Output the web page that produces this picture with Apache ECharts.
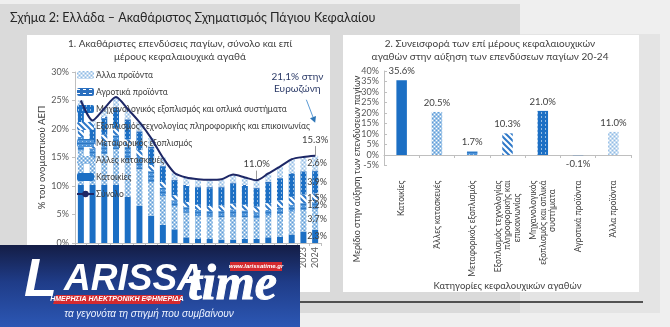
<!DOCTYPE html>
<html><head><meta charset="utf-8">
<script src="https://cdn.jsdelivr.net/npm/echarts/dist/echarts.min.js"></script>
<style>html,body{margin:0;padding:0;background:#efefef}#c{width:670px;height:327px}</style>
</head><body><div id="c"></div>
<script>
// ---------- DATA ----------
const years = ['2004','2005','2006','2007','2008','2009','2010','2011','2012','2013','2014','2015','2016','2017','2018','2019','2020','2021','2022','2023','2024'];
const dwellings   = [10.2,10.2,10.2,10.2,8.1,6.5,4.8,3.2,2.4,1.0,0.7,0.7,0.6,0.6,0.7,0.7,1.0,1.1,1.5,2.0,2.3];
const otherConstr = [6.0,4.6,5.4,6.2,6.4,6.4,5.9,5.0,4.1,4.3,4.0,3.9,3.9,4.0,3.8,3.6,3.8,4.0,4.0,3.8,3.7];
const transport   = [2.4,1.8,2.2,2.5,2.4,2.2,1.9,1.5,1.0,1.0,1.1,1.0,1.1,1.3,1.2,1.1,1.0,1.1,1.2,1.2,1.2];
const ict         = [1.2,1.1,1.2,1.3,1.3,1.2,1.1,1.0,0.9,0.9,0.9,0.9,1.0,1.0,1.0,1.0,1.2,1.3,1.4,1.5,1.5];
const machinery   = [3.3,2.3,2.8,3.3,3.2,3.0,2.9,2.7,2.5,2.8,3.0,3.1,3.1,3.5,3.3,3.1,3.5,3.8,4.1,4.0,3.9];
const agri        = [0.3,0.2,0.3,0.3,0.3,0.3,0.3,0.2,0.2,0.2,0.2,0.2,0.2,0.2,0.2,0.2,0.2,0.2,0.1,0.1,0.1];
const otherProd   = [1.6,1.3,1.5,1.8,1.8,1.6,1.5,1.4,1.2,1.3,1.3,1.3,1.3,1.4,1.3,1.3,1.5,1.9,2.4,2.5,2.6];
const total       = [25.0,21.5,23.6,25.6,23.5,21.2,18.4,15.0,12.3,11.5,11.2,11.1,11.2,12.0,11.5,11.0,12.2,13.4,14.7,15.1,15.3];
const totalLabelYears = ['2019','2024'];
const euroAreaValue = 21.1;
const euroAreaText = '21,1% στην\nΕυρωζώνη';

const seriesNames = ['Κατοικίες','Άλλες κατασκευές','Μεταφορικός εξοπλισμός','Εξοπλισμός τεχνολογίας πληροφορικής και επικοινωνίας','Μηχανολογικός εξοπλισμός και οπλικά συστήματα','Αγροτικά προϊόντα','Άλλα προϊόντα'];
const totalName = 'Σύνολο';

const contribCats = ['Κατοικίες','Άλλες κατασκευές','Μεταφορικός εξοπλισμός','Εξοπλισμός τεχνολογίας\nπληροφορικής και\nεπικοινωνίας\u00a0\u00a0\u00a0\u00a0\u00a0\u00a0','Μηχανολογικός\nεξοπλισμός και οπλικά\nσυστήματα\u00a0\u00a0\u00a0\u00a0','Αγροτικά προϊόντα','Άλλα προϊόντα'];
const contribValues = [35.6, 20.5, 1.7, 10.3, 21.0, -0.1, 11.0];

const yTicksLeft = {min:0, max:30, interval:5};
const yTicksRight = {min:-5, max:40, interval:5};

// ---------- STYLES ----------
const FONT = 'Lato';
function pat(w,h,bg,draw){const c=document.createElement('canvas');c.width=w;c.height=h;const x=c.getContext('2d');if(bg){x.fillStyle=bg;x.fillRect(0,0,w,h);}draw(x);return {image:c,repeat:'repeat'};}
const fills = [
  '#1c6fc4',
  pat(4,4,'#9fc5e8',x=>{x.fillStyle='#ffffff';x.fillRect(0,0,1,1);x.fillRect(2,2,1,1);x.fillStyle='#5d9bd8';x.fillRect(2,0,1,1);x.fillRect(0,2,1,1);}),
  pat(4,4,'#4d93d9',x=>{x.fillStyle='#2f78c2';x.fillRect(0,0,4,1);x.fillStyle='#a9cdef';x.fillRect(1,2,1,1);}),
  pat(6,6,'#ffffff',x=>{x.strokeStyle='#2e78c8';x.lineWidth=2;x.beginPath();x.moveTo(-3,-3);x.lineTo(9,9);x.moveTo(-3,3);x.lineTo(3,9);x.moveTo(3,-3);x.lineTo(9,3);x.stroke();}),
  pat(4,4,'#1c6fc4',x=>{x.fillStyle='rgba(255,255,255,0.55)';x.fillRect(1,0,1,2);}),
  pat(6,4,'#2a6fbf',x=>{x.fillStyle='#ffffff';x.fillRect(0,1,3,1);}),
  pat(4,4,'#c6dcf1',x=>{x.fillStyle='#ffffff';x.fillRect(0,0,1,1);x.fillRect(2,2,1,1);x.fillStyle='#8fbbe6';x.fillRect(2,0,1,1);x.fillRect(0,2,1,1);})
];
const seriesData = [dwellings, otherConstr, transport, ict, machinery, agri, otherProd];

const chart = echarts.init(document.getElementById('c'), null, {renderer:'canvas'});

const bg = [
  {type:'rect', z:-10, silent:true, shape:{x:0,y:4,width:520,height:309}, style:{fill:'#dadada'}},
  {type:'rect', z:-10, silent:true, shape:{x:520,y:34,width:140,height:279}, style:{fill:'#e4e4e4'}},
  {type:'rect', z:-9, silent:true, shape:{x:27,y:35,width:303,height:257}, style:{fill:'#ffffff'}},
  {type:'rect', z:-9, silent:true, shape:{x:343,y:35,width:296,height:257}, style:{fill:'#ffffff'}},
  {type:'line', z:-8, silent:true, shape:{x1:27,y1:302,x2:643,y2:302}, style:{stroke:'#222',lineWidth:1.5}}
];
const logo = [
  {type:'rect', z:100, shape:{x:0,y:245,width:300,height:82}, style:{fill:new echarts.graphic.LinearGradient(0,0,0,1,[{offset:0,color:'#141d45'},{offset:0.45,color:'#1f3c88'},{offset:1,color:'#2c57b4'}])}},
  {type:'text', z:101, x:24, y:308, style:{text:'L', fill:'#ffffff', font:'italic bold 54px "Liberation Sans"', verticalAlign:'bottom'}},
  {type:'text', z:101, x:64, y:298, style:{text:'ARISSA', fill:'#ffffff', font:'italic bold 37px "Liberation Sans"', verticalAlign:'bottom'}},
  {type:'text', z:102, x:188, y:311, style:{text:'time', fill:'#ffffff', stroke:'#ffffff', lineWidth:1, opacity:1, font:'italic bold 50px "Liberation Serif"', verticalAlign:'bottom'}},
  {type:'rect', z:103, shape:{x:230,y:262,width:52,height:9}, style:{fill:'#d42a2f'}},
  {type:'text', z:104, x:256, y:266.5, style:{text:'www.larissatime.gr', fill:'#ffffff', font:'italic bold 6px "Liberation Sans"', align:'center', verticalAlign:'middle'}},
  {type:'polygon', z:103, shape:{points:[[56,295],[183,295],[180,304],[53,304]]}, style:{fill:'#d42a2f'}},
  {type:'text', z:104, x:117, y:299.5, style:{text:'ΗΜΕΡΗΣΙΑ ΗΛΕΚΤΡΟΝΙΚΗ ΕΦΗΜΕΡΙΔΑ', fill:'#ffffff', font:'italic bold 7px "Liberation Sans"', align:'center', verticalAlign:'middle'}},
  {type:'text', z:101, x:149, y:314, style:{text:'τα γεγονότα τη στιγμή που συμβαίνουν', fill:'#eef3ff', font:'italic 10px "Liberation Sans"', align:'center', verticalAlign:'middle'}}
];
const rightYName = {type:'text', z:5, x:357, y:169, rotation:Math.PI/2, style:{text:'Μερίδιο στην αύξηση των επενδύσεων παγίων', fill:'#404040', font:'9px '+FONT, align:'center', verticalAlign:'middle'}};

const last = years.length-1;
const barSeries = seriesNames.map((n,i)=>({
  name:n, type:'bar', stack:'s', xAxisIndex:0, yAxisIndex:0, barWidth:6,
  data:seriesData[i],
  itemStyle:{color:fills[i]},
  label:{show:true, position:'inside', offset:[2,0], fontSize:9, fontFamily:FONT, color:'#404040',
    formatter:p=> (p.dataIndex===last && i!==5) ? p.value.toFixed(1)+'%' : ''}
}));

const lineData = total.map((v,i)=> totalLabelYears.includes(years[i]) ? {value:v, label:{show:true}} : v);

const option = {
  animation:false,
  backgroundColor:'#efefef',
  textStyle:{fontFamily:FONT},
  title:[
    {text:'Σχήμα 2: Ελλάδα – Ακαθάριστος Σχηματισμός Πάγιου Κεφαλαίου', left:10, top:11, padding:0, textStyle:{fontSize:12.5, fontWeight:'normal', color:'#262626', fontFamily:FONT}},
    {text:'1. Ακαθάριστες επενδύσεις παγίων, σύνολο και επί\nμέρους κεφαλαιουχικά αγαθά', left:180, top:38, padding:0, textAlign:'center', textStyle:{fontSize:10, lineHeight:12.5, fontWeight:'normal', color:'#404040', fontFamily:FONT}},
    {text:'2. Συνεισφορά των επί μέρους κεφαλαιουχικών\nαγαθών στην αύξηση των επενδύσεων παγίων 20-24', left:490, top:38, padding:0, textAlign:'center', textStyle:{fontSize:10, lineHeight:12.5, fontWeight:'normal', color:'#404040', fontFamily:FONT}}
  ],
  legend:{
    orient:'vertical', left:76, top:70, padding:0, itemWidth:17, itemHeight:8, itemGap:7,
    textStyle:{fontSize:8.5, lineHeight:10, color:'#404040', fontFamily:FONT, padding:[0,0,0,-3]},
    data:[...seriesNames].reverse().concat([totalName])
  },
  grid:[
    {left:75, right:349, top:72, bottom:84},
    {left:384, right:39, top:71, bottom:161.5}
  ],
  xAxis:[
    {type:'category', gridIndex:0, data:years,
      axisLine:{lineStyle:{color:'#bfbfbf'}}, axisTick:{show:true, length:3, lineStyle:{color:'#bfbfbf'}},
      axisLabel:{rotate:90, interval:0, fontSize:9, color:'#595959', margin:4, fontFamily:FONT}},
    {type:'category', gridIndex:1, data:contribCats,
      axisLine:{onZero:true, lineStyle:{color:'#bfbfbf'}}, axisTick:{show:true, length:3, lineStyle:{color:'#bfbfbf'}},
      axisLabel:{rotate:90, interval:0, fontSize:8.5, lineHeight:9.5, color:'#404040', margin:15, fontFamily:FONT},
      name:'Κατηγορίες κεφαλουχικών αγαθών', nameLocation:'middle', nameGap:106,
      nameTextStyle:{fontSize:9.5, color:'#404040', fontFamily:FONT}}
  ],
  yAxis:[
    {type:'value', gridIndex:0, min:yTicksLeft.min, max:yTicksLeft.max, interval:yTicksLeft.interval,
      splitLine:{show:false}, axisLine:{show:true, lineStyle:{color:'#bfbfbf'}}, axisTick:{show:true, length:3, lineStyle:{color:'#bfbfbf'}},
      axisLabel:{formatter:'{value}%', fontSize:9, color:'#595959', margin:6, fontFamily:FONT},
      name:'% του ονομαστικού ΑΕΠ', nameLocation:'middle', nameGap:28,
      nameTextStyle:{fontSize:9.5, color:'#404040', fontFamily:FONT}},
    {type:'value', gridIndex:1, min:yTicksRight.min, max:yTicksRight.max, interval:yTicksRight.interval,
      splitLine:{show:false}, axisLine:{show:true, lineStyle:{color:'#bfbfbf'}}, axisTick:{show:true, inside:true, length:3, lineStyle:{color:'#bfbfbf'}},
      axisLabel:{formatter:'{value}%', fontSize:9, color:'#595959', margin:5, fontFamily:FONT}}
  ],
  series:[
    ...barSeries,
    {name:totalName, type:'line', xAxisIndex:0, yAxisIndex:0, data:lineData, symbol:'circle', symbolSize:0.5, showSymbol:true, showAllSymbol:true, smooth:0.25,
      lineStyle:{color:'#1d2766', width:2}, itemStyle:{color:'#1d2766'}, z:5,
      label:{show:false, position:'top', distance:11, fontSize:9.5, color:'#404040', fontFamily:FONT, formatter:p=>p.value.toFixed(1)+'%'},
      markLine:{silent:true, symbol:'none', label:{show:false}, lineStyle:{color:'#7f7f7f', width:0.8, type:'solid'},
        data: totalLabelYears.map(y=>{const v=total[years.indexOf(y)];return [{coord:[y,v]},{coord:[y,v+1.7]}];})}},
    {name:'contrib', type:'bar', xAxisIndex:1, yAxisIndex:1, barWidth:10.5,
      data:contribValues.map((v,i)=>({value:v, itemStyle:{color:fills[i]}, label:{position: v<0?'bottom':'top'}})),
      label:{show:true, fontSize:9.5, color:'#404040', fontFamily:FONT, distance:4, formatter:p=>p.value.toFixed(1)+'%'}}
  ],
  graphic:bg.concat(logo,[rightYName])
};
chart.setOption(option);

// annotation for euro area pointing at the euro area level on the last year
const pEnd = chart.convertToPixel({gridIndex:0},[years[last], euroAreaValue]);
const pPrev = chart.convertToPixel({gridIndex:0},[years[last-1], euroAreaValue]);
const dx = pEnd[0]-pPrev[0];
const startX = pEnd[0]-0.75*dx, startY = pEnd[1]-23;
const ang = Math.atan2(pEnd[1]-startY, pEnd[0]-startX);
const ah = 6, aw = 3.2;
const bx = pEnd[0]-ah*Math.cos(ang), by = pEnd[1]-ah*Math.sin(ang);
const arrow = [
  {type:'line', z:6, shape:{x1:startX,y1:startY,x2:bx,y2:by}, style:{stroke:'#5b9bd5', lineWidth:1}},
  {type:'polygon', z:6, shape:{points:[[pEnd[0],pEnd[1]],[bx-aw*Math.sin(ang),by+aw*Math.cos(ang)],[bx+aw*Math.sin(ang),by-aw*Math.cos(ang)]]}, style:{fill:'#2e75b6'}},
  {type:'text', z:6, x:startX-9, y:startY-17, style:{text:euroAreaText, fill:'#2b3a67', font:'10px '+FONT, align:'center', verticalAlign:'middle', lineHeight:12}}
];
chart.setOption({graphic:bg.concat(logo,[rightYName],arrow)});
</script></body></html>
